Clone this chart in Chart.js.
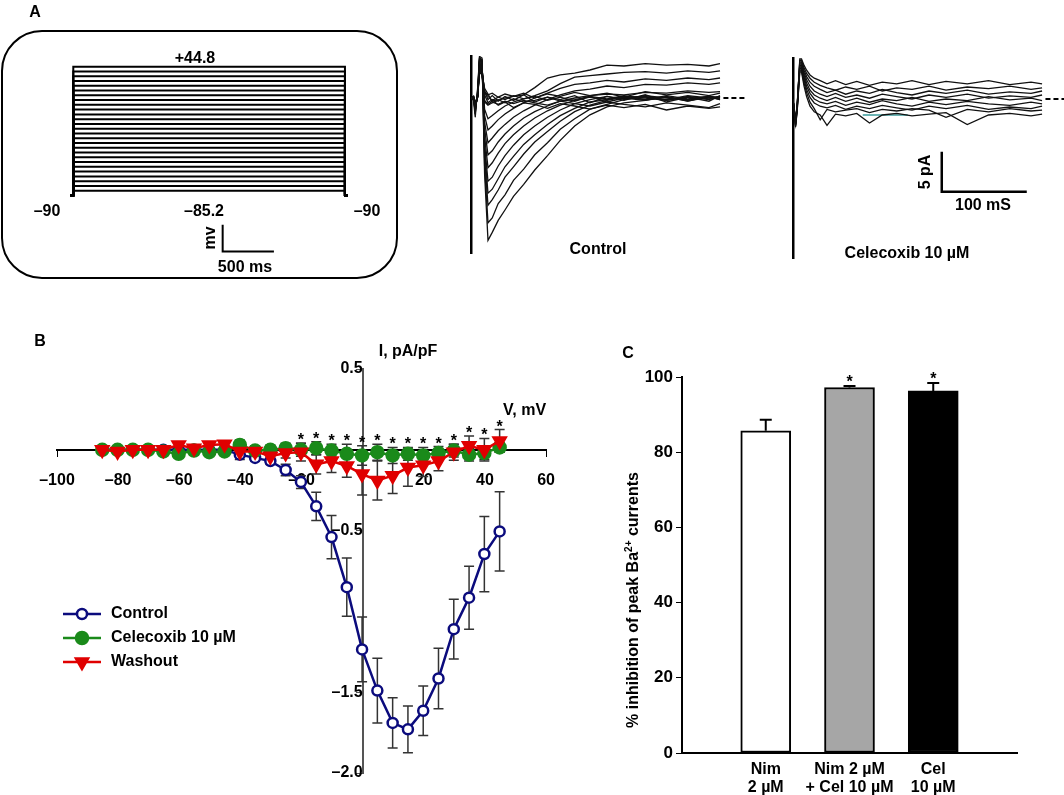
<!DOCTYPE html>
<html>
<head>
<meta charset="utf-8">
<script src="https://cdn.jsdelivr.net/npm/chart.js@4.4.1/dist/chart.umd.min.js"></script>
<style>
  html, body { margin: 0; padding: 0; background: #fff; }
  body { width: 1064px; height: 795px; position: relative; overflow: hidden;
         font-family: "Liberation Sans", Arial, sans-serif; }
  canvas { position: absolute; }
  .lbl { position: absolute; font-weight: bold; font-size: 16px; color: #000; white-space: nowrap;
         line-height: 1; transform: translate(-50%, -50%); }
  .rot { transform: translate(-50%, -50%) rotate(-90deg); }
  .lbl sup { font-size: 10px; vertical-align: 6px; line-height: 0; }
</style>
</head>
<body>

<canvas id="protocol" width="420" height="290" style="left:0;top:0"></canvas>
<canvas id="ctrlTraces" width="285" height="225" style="left:460px;top:40px"></canvas>
<canvas id="celTraces" width="279" height="225" style="left:785px;top:40px"></canvas>
<canvas id="ivChart" width="570" height="465" style="left:0;top:330px"></canvas>
<canvas id="barChart" width="464" height="455" style="left:600px;top:340px"></canvas>

<div class="lbl" style="left:35px;top:12px">A</div>
<div class="lbl" id="lblTop" style="left:195px;top:58px"></div>
<div class="lbl" id="lblHoldL" style="left:47px;top:211px"></div>
<div class="lbl" id="lblBottom" style="left:204px;top:211px"></div>
<div class="lbl" id="lblHoldR" style="left:367px;top:211px"></div>
<div class="lbl rot" style="left:210px;top:238px">mv</div>
<div class="lbl" style="left:245px;top:267px">500 ms</div>
<div class="lbl" style="left:598px;top:249px">Control</div>
<div class="lbl" style="left:907px;top:253px">Celecoxib 10 µM</div>
<div class="lbl rot" style="left:925px;top:172px">5 pA</div>
<div class="lbl" style="left:983px;top:205px">100 mS</div>
<div class="lbl" style="left:40px;top:341px">B</div>
<div class="lbl" style="left:628px;top:353px">C</div>
<div class="lbl rot" style="left:633px;top:600px">% inhibition of peak Ba<sup>2+</sup> currents</div>

<script>
// ======================
// Dữ liệu: protocol điện áp (panel A)
// ======================
const protocolVoltages = [-85.2, -80.2, -75.2, -70.2, -65.2, -60.2, -55.2, -50.2, -45.2, -40.2, -35.2, -30.2, -25.2, -20.2,
  -15.2, -10.2, -5.2, -0.2, 4.8, 9.8, 14.8, 19.8, 24.8, 29.8, 34.8, 39.8, 44.8];
const holdingMv = -90;
const stepMs = 2650;
const protoBarCorner = [1457, -149];   // góc thanh tỉ lệ (ms, mV)
const protoBarMs = 500;
const protoBarMv = 28;

// ======================
// Dữ liệu: dòng điện (pA) theo thời gian (ms)
// ======================
const traceTimes = [0, 3, 5, 8, 10, 13, 16, 20, 25, 32, 40, 50, 62, 75, 90, 105, 122, 140, 160, 180, 205, 230, 255, 280, 293];

const controlTraces = [
  [0, -0.3, -2.4, 1.5, 5.2, 5.0, -9.5, -17.8, -16.8, -15.3, -14.0, -12.3, -10.8, -9.0, -7.2, -5.3, -3.5, -2.1, -1.1, -0.6, -0.3, 0.1, -0.4, 0.2, -0.1],
  [0, 0.2, -2.0, 1.2, 5.0, 4.8, -8.5, -15.6, -15.0, -13.2, -12.1, -10.3, -8.9, -7.1, -5.6, -3.9, -2.6, -1.4, -0.8, -0.2, 0.2, -0.3, 0.1, -0.2, 0.2],
  [0, -0.1, -1.8, 1.0, 4.9, 4.7, -7.5, -13.4, -12.7, -11.5, -9.9, -8.6, -7.0, -5.5, -4.2, -2.9, -1.7, -0.9, -0.3, 0.1, -0.2, 0.3, -0.1, 0.2, -0.2],
  [0, 0.1, -1.6, 0.8, 4.8, 4.6, -6.5, -11.9, -11.4, -10.1, -8.6, -7.3, -5.8, -4.6, -3.3, -2.2, -1.3, -0.5, -0.2, 0.2, 0.0, -0.3, 0.2, -0.1, 0.1],
  [0, -0.2, -1.5, 0.6, 4.7, 4.5, -5.8, -10.4, -9.9, -8.5, -7.2, -5.9, -4.6, -3.5, -2.4, -1.5, -0.7, -0.2, 0.2, -0.1, 0.3, 0.0, -0.2, 0.2, 0.0],
  [0, 0.1, -1.4, 0.5, 4.6, 4.4, -4.8, -8.7, -8.1, -6.9, -5.7, -4.6, -3.5, -2.5, -1.6, -0.9, -0.3, 0.1, -0.2, 0.2, 0.1, -0.2, 0.3, 0.0, 0.2],
  [0, 0.0, -1.2, 0.4, 4.5, 4.2, -3.8, -7.1, -6.6, -5.5, -4.5, -3.5, -2.5, -1.7, -1.0, -0.4, 0.0, 0.3, 0.5, 0.4, 0.7, 0.6, 0.9, 0.7, 0.8],
  [0, 0.2, -1.1, 0.3, 4.4, 4.0, -3.0, -5.6, -5.0, -4.1, -3.3, -2.4, -1.6, -0.9, -0.2, 0.4, 0.9, 1.1, 1.5, 1.3, 1.7, 1.6, 1.9, 1.7, 1.9],
  [0, -0.1, -1.0, 0.2, 4.3, 3.8, -2.2, -4.0, -3.5, -2.7, -2.0, -1.3, -0.6, 0.0, 0.6, 1.2, 1.7, 1.9, 2.2, 2.0, 2.4, 2.2, 2.5, 2.3, 2.5],
  [0, 0.1, -0.9, 0.2, 4.2, 3.6, -1.4, -2.6, -2.2, -1.6, -1.0, -0.5, -0.1, 0.3, 0.9, 1.8, 2.6, 2.8, 3.0, 3.2, 3.3, 3.1, 3.4, 3.2, 3.4],
  [0, 0.0, -0.8, 0.1, 4.0, 3.4, -0.5, -0.9, -0.6, -0.3, 0.0, 0.2, 0.4, 1.3, 2.5, 2.9, 3.1, 3.5, 4.1, 4.0, 4.3, 4.1, 4.2, 4.0, 4.3],
  [0, 0.1, -1.0, 0.5, 4.0, 3.5, 0.6, 0.2, -0.3, 0.1, -0.2, 0.3, -0.1, 0.2, -0.3, 0.1, -0.4, 0.2, -0.1, 0.3, -0.2, 0.1, -0.3, 0.2, 0.0],
  [0, -0.1, -0.8, 0.4, 3.8, 3.2, 0.9, -0.2, 0.3, -0.4, 0.2, -0.3, 0.4, -0.5, 0.1, -0.2, 0.3, -0.6, 0.2, -0.3, 0.4, -0.5, 0.1, -0.4, 0.3],
  [0, 0.2, -0.6, 0.3, 3.6, 3.0, 1.2, 0.5, -0.5, -0.8, -0.4, -0.7, -0.3, -0.6, -0.9, -0.4, -0.7, -1.0, -0.5, -0.8, -1.1, -0.6, -0.9, -1.2, -0.7],
  [0, 0.0, -0.7, 0.2, 3.4, 2.8, 0.4, -0.6, -0.2, -0.9, -0.5, -1.2, -0.6, -0.8, -1.3, -0.7, -1.0, -1.4, -0.9, -1.2, -0.8, -1.5, -1.0, -1.3, -1.1],
  [0, -0.2, -0.9, 0.6, 3.9, 3.3, 0.8, 0.4, 0.6, 0.1, 0.5, 0.2, 0.6, 0.0, 0.5, 0.2, 0.7, 0.3, 0.6, 0.1, 0.8, 0.4, 0.7, 0.3, 0.6],
  [0, 0.1, -1.1, 0.4, 3.7, 3.1, -0.3, -0.8, -0.4, -0.2, -0.6, -0.1, -0.5, -0.3, 0.1, -0.4, -0.2, 0.2, -0.5, 0.0, -0.3, 0.2, -0.4, 0.1, -0.2]
];

const celecoxibTraces = [
  [0, -3.2, -1.0, 5.0, 5.0, 4.2, 3.6, 3.0, 2.6, 2.3, 1.9, 2.3, 1.8, 2.2, 1.7, 2.1, 1.9, 2.3, 1.8, 2.2, 1.9, 2.3, 1.8, 2.1, 1.9],
  [0, -3.0, -0.8, 4.8, 4.8, 3.9, 3.2, 2.6, 2.1, 1.7, 1.4, 1.1, 1.5, 1.2, 1.6, 1.0, 1.4, 1.2, 1.6, 1.1, 1.5, 1.3, 1.6, 1.2, 1.4],
  [0, -2.8, -0.6, 4.6, 4.6, 3.6, 2.8, 2.1, 1.6, 1.2, 0.8, 1.1, 0.6, 1.0, 0.7, 1.2, 0.8, 0.5, 1.0, 0.7, 1.1, 0.6, 0.9, 0.7, 1.0],
  [0, -2.6, -0.5, 4.4, 4.4, 3.3, 2.4, 1.6, 1.0, 0.6, 0.3, 0.7, 0.2, 0.5, 0.1, 0.6, 0.3, 0.0, 0.5, 0.2, 0.6, 0.1, 0.4, 0.2, 0.5],
  [0, -2.9, -0.7, 4.2, 4.2, 3.0, 2.0, 1.1, 0.5, 0.1, -0.2, 0.2, -0.3, 0.1, -0.4, 0.0, -0.2, 0.2, -0.3, 0.0, -0.2, 0.3, -0.1, 0.1, -0.2],
  [0, -3.1, -0.9, 4.0, 4.0, 2.7, 1.6, 0.7, 0.0, -0.4, -0.6, -0.3, -0.8, -0.4, -0.7, -0.2, -0.6, -0.9, -0.4, -0.7, -0.3, -0.6, -0.8, -0.4, -0.6],
  [0, -3.3, -1.1, 3.8, 3.8, 2.4, 1.2, 0.2, -0.5, -0.9, -1.1, -0.8, -1.3, -0.9, -1.2, -0.8, -1.1, -1.4, -0.9, -1.2, -0.8, -1.3, -1.0, -1.2, -0.9],
  [0, -3.4, -1.3, 3.6, 3.6, 2.0, 0.8, -0.4, -1.2, -2.6, -1.3, -1.6, -1.4, -1.2, -1.7, -1.3, -1.5, -1.2, -1.4, -2.3, -1.3, -1.6, -1.2, -1.5, -1.4],
  [0, -3.5, -1.4, 3.4, 3.4, 1.6, 0.3, -0.9, -1.6, -2.0, -3.3, -1.9, -2.1, -1.8, -3.0, -2.0, -1.8, -2.1, -1.9, -1.7, -3.2, -2.0, -1.8, -2.1, -1.9]
];
const tealTimes = [82, 100, 118, 135];
const tealValues = [-2.0, -2.0, -2.0, -2.0];
const dashFromMs = 297;
const pAScaleBar = { t: [175, 175, 275], i: [-6.6, -11.6, -11.6] };

// ======================
// Dữ liệu: đường cong I-V (panel B)
// ======================
const ivVoltages = protocolVoltages;
const controlI = [0, 0, 0, 0, 0, 0, 0, 0, 0, -0.03, -0.05, -0.07, -0.125, -0.20, -0.35, -0.54, -0.85, -1.235,
  -1.49, -1.69, -1.73, -1.615, -1.415, -1.11, -0.915, -0.645, -0.505];
const controlErr = [0.01, 0.01, 0.01, 0.01, 0.01, 0.01, 0.01, 0.01, 0.01, 0.03, 0.02, 0.02, 0.035, 0.04, 0.087, 0.134, 0.18, 0.2,
  0.2, 0.156, 0.145, 0.153, 0.187, 0.185, 0.195, 0.233, 0.245];
const celecoxibI = [0, 0, 0, 0, -0.01, -0.025, -0.005, -0.015, -0.01, 0.03, -0.005, 0, 0.01, 0, 0.01, -0.005, -0.025, -0.035,
  -0.015, -0.035, -0.025, -0.035, -0.02, -0.005, -0.03, -0.02, 0.015];
const celecoxibErr = [0.01, 0.01, 0.01, 0.01, 0.01, 0.01, 0.01, 0.01, 0.01, 0.03, 0.03, 0.03, 0.03, 0.04, 0.04, 0.04, 0.06, 0.06,
  0.05, 0.05, 0.04, 0.05, 0.04, 0.04, 0.04, 0.04, 0.03];
const washoutI = [0, -0.01, 0, 0, 0, 0.03, 0.01, 0.03, 0.035, -0.01, -0.01, -0.04, -0.02, -0.015, -0.09, -0.07, -0.10, -0.15,
  -0.19, -0.16, -0.11, -0.095, -0.07, -0.015, 0.025, 0, 0.055];
const washoutErr = [0.01, 0.01, 0.01, 0.01, 0.01, 0.01, 0.01, 0.01, 0.01, 0.02, 0.02, 0.03, 0.03, 0.055, 0.06, 0.07, 0.07, 0.13,
  0.12, 0.11, 0.115, 0.07, 0.06, 0.05, 0.06, 0.07, 0.07];
const starVoltages = [-20.2, -15.2, -10.2, -5.2, -0.2, 4.8, 9.8, 14.8, 19.8, 24.8, 29.8, 34.8, 39.8, 44.8];

// ======================
// Dữ liệu: % ức chế (panel C)
// ======================
const barCategories = [["Nim", "2 µM"], ["Nim 2 µM", "+ Cel 10 µM"], ["Cel", "10 µM"]];
const barValues = [85.7, 97.2, 96.3];
const barErrors = [2.9, 0.4, 2.1];
const barColors = ["#ffffff", "#a6a6a6", "#000000"];
const barStars = [false, true, true];

const FONT = '"Liberation Sans", Arial, sans-serif';
Chart.defaults.font.family = FONT;
Chart.defaults.color = "#000";
Chart.defaults.animation = false;

const noPlugins = { legend: { display: false }, tooltip: { enabled: false } };
const dash = v => (v < 0 ? "–" : "") + Math.abs(v);

// nhãn văn bản của protocol lấy từ dữ liệu
document.getElementById("lblTop").textContent = "+" + protocolVoltages[protocolVoltages.length - 1];
document.getElementById("lblBottom").textContent = dash(protocolVoltages[0]);
document.getElementById("lblHoldL").textContent = dash(holdingMv);
document.getElementById("lblHoldR").textContent = dash(holdingMv);

// ======================
// Panel A: protocol
// ======================
const roundBox = {
  id: "roundBox",
  beforeDatasetsDraw(chart) {
    const ctx = chart.ctx;
    ctx.save();
    ctx.strokeStyle = "#000";
    ctx.lineWidth = 2;
    ctx.beginPath();
    ctx.roundRect(2, 31, 395, 247, 40);
    ctx.stroke();
    ctx.restore();
  }
};

const protocolSets = protocolVoltages.map(v => ({
  data: [
    { x: -28, y: holdingMv }, { x: 0, y: holdingMv }, { x: 0, y: v },
    { x: stepMs, y: v }, { x: stepMs, y: holdingMv }, { x: stepMs + 28, y: holdingMv }
  ],
  showLine: true, borderColor: "#000", borderWidth: 2, pointRadius: 0
}));
protocolSets.push({
  data: [
    { x: protoBarCorner[0], y: protoBarCorner[1] + protoBarMv },
    { x: protoBarCorner[0], y: protoBarCorner[1] },
    { x: protoBarCorner[0] + protoBarMs, y: protoBarCorner[1] }
  ],
  showLine: true, borderColor: "#000", borderWidth: 2, pointRadius: 0
});

new Chart(document.getElementById("protocol"), {
  type: "scatter",
  data: { datasets: protocolSets },
  options: {
    responsive: false,
    layout: { padding: 0 },
    plugins: noPlugins,
    scales: {
      x: { display: false, min: -715, max: 3382 },
      y: { display: false, min: -189.3, max: 114.7 }
    }
  },
  plugins: [roundBox]
});

// ======================
// Panel A: các vết dòng điện
// ======================
function traceSets(traces, extra) {
  const sets = traces.map(tr => ({
    data: tr.map((v, i) => ({ x: traceTimes[i], y: v })),
    showLine: true, borderColor: "#111", borderWidth: 1.3, pointRadius: 0
  }));
  return sets.concat(extra);
}

function makeTraceChart(id, sets, xMax, yMin, yMax, pad) {
  new Chart(document.getElementById(id), {
    type: "scatter",
    data: { datasets: sets },
    options: {
      responsive: false,
      layout: { padding: pad },
      plugins: noPlugins,
      scales: {
        x: { display: false, min: 0, max: xMax },
        y: {
          min: yMin, max: yMax,
          ticks: { display: false },
          grid: { display: false },
          border: { display: true, color: "#000", width: 2.5 },
          afterFit: s => { s.width = 0; }
        }
      }
    }
  });
}

const dashedBaseline = xEnd => ({
  data: [{ x: dashFromMs, y: 0 }, { x: xEnd, y: 0 }],
  showLine: true, borderColor: "#000", borderWidth: 1.8, borderDash: [5, 3], pointRadius: 0
});

makeTraceChart("ctrlTraces",
  traceSets(controlTraces, [dashedBaseline(322)]),
  322.4, -19.375, 5.25, { left: 11, top: 16, right: 0, bottom: 12 });

makeTraceChart("celTraces",
  traceSets(celecoxibTraces, [
    dashedBaseline(319),
    { data: tealTimes.map((t, i) => ({ x: t, y: tealValues[i] })), showLine: true,
      borderColor: "#3a9a9a", borderWidth: 1.5, pointRadius: 0 },
    { data: pAScaleBar.t.map((t, i) => ({ x: t, y: pAScaleBar.i[i] })), showLine: true,
      borderColor: "#000", borderWidth: 2.5, pointRadius: 0 }
  ]),
  318.8, -19.875, 5.125, { left: 8, top: 18, right: 0, bottom: 7 });

// ======================
// Panel B: I-V
// ======================
const ivSeries = [
  { label: "Control", values: controlI, errs: controlErr, color: "#0b0b7d", style: "circle", radius: 5, fill: "#fff", rot: 0 },
  { label: "Celecoxib 10 µM", values: celecoxibI, errs: celecoxibErr, color: "#1a8a1a", style: "circle", radius: 6, fill: "#1a8a1a", rot: 0 },
  { label: "Washout", values: washoutI, errs: washoutErr, color: "#e00000", style: "triangle", radius: 7, fill: "#e00000", rot: 180 }
];

const ivExtras = {
  id: "ivExtras",
  beforeDatasetsDraw(chart) {
    const { ctx, scales: { x, y } } = chart;
    ctx.save();
    ctx.strokeStyle = "#333";
    ctx.lineWidth = 1.5;
    ivSeries.forEach(s => {
      s.values.forEach((v, i) => {
        const px = x.getPixelForValue(ivVoltages[i]);
        const top = y.getPixelForValue(v + s.errs[i]);
        const bot = y.getPixelForValue(v - s.errs[i]);
        ctx.beginPath();
        ctx.moveTo(px, top); ctx.lineTo(px, bot);
        ctx.moveTo(px - 5, top); ctx.lineTo(px + 5, top);
        ctx.moveTo(px - 5, bot); ctx.lineTo(px + 5, bot);
        ctx.stroke();
      });
    });
    ctx.restore();
  },
  afterDatasetsDraw(chart) {
    const { ctx, scales: { x, y } } = chart;
    ctx.save();
    ctx.fillStyle = "#000";
    ctx.font = "bold 16px " + FONT;
    ctx.textAlign = "center";
    ctx.textBaseline = "alphabetic";
    starVoltages.forEach(v => {
      const i = ivVoltages.indexOf(v);
      const top = Math.max(washoutI[i] + washoutErr[i], celecoxibI[i] + celecoxibErr[i]);
      ctx.fillText("*", x.getPixelForValue(v), y.getPixelForValue(top) + 2);
    });

    // tiêu đề trục
    ctx.textAlign = "left";
    ctx.textBaseline = "middle";
    ctx.fillText("I, pA/pF", x.getPixelForValue(0) + 16, y.getPixelForValue(0.5) - 17);
    ctx.textAlign = "right";
    ctx.fillText("V, mV", x.getPixelForValue(60), y.getPixelForValue(0) - 39);

    // chú thích
    ivSeries.forEach((s, k) => {
      const ly = 284 + k * 24;
      ctx.strokeStyle = s.color;
      ctx.lineWidth = 2.5;
      ctx.beginPath();
      ctx.moveTo(63, ly); ctx.lineTo(101, ly);
      ctx.stroke();
      ctx.fillStyle = s.fill;
      Chart.helpers.drawPoint(ctx, { pointStyle: s.style, radius: s.radius, rotation: s.rot, borderWidth: 2.5 }, 82, ly);
      ctx.fillStyle = "#000";
      ctx.textAlign = "left";
      ctx.fillText(s.label, 111, ly);
    });
    ctx.restore();
  }
};

new Chart(document.getElementById("ivChart"), {
  type: "scatter",
  data: {
    datasets: ivSeries.map((s, k) => ({
      label: s.label,
      data: s.values.map((v, i) => ({ x: ivVoltages[i], y: v })),
      showLine: true,
      borderColor: s.color,
      borderWidth: 2.5,
      pointStyle: s.style,
      pointRadius: s.radius,
      pointRotation: s.rot,
      pointBorderWidth: 2.5,
      pointBorderColor: s.color,
      pointBackgroundColor: s.fill,
      order: 2 - k
    }))
  },
  options: {
    responsive: false,
    layout: { padding: { left: 57, right: 3, top: 39, bottom: 22 } },
    plugins: noPlugins,
    scales: {
      x: {
        type: "linear", min: -100, max: 60, position: { y: 0 },
        ticks: {
          stepSize: 20, padding: 15,
          font: { size: 16, weight: "bold" },
          callback: v => (v === 0 ? "" : dash(v))
        },
        grid: {
          display: true, drawOnChartArea: false, tickLength: 6,
          tickColor: c => (c.tick && (c.tick.value === -100 || c.tick.value === 60) ? "#000" : "rgba(0,0,0,0)")
        },
        border: { display: true, color: "#000", width: 2 }
      },
      y: {
        type: "linear", min: -2, max: 0.5, position: { x: 0 },
        ticks: {
          stepSize: 0.5, padding: 11,
          font: { size: 16, weight: "bold" },
          callback: v => (Math.abs(v) < 1e-9 || Math.abs(v + 1) < 1e-9 ? "" : (v < 0 ? "–" : "") + Math.abs(v).toFixed(1))
        },
        grid: {
          display: true, drawOnChartArea: false, tickLength: 6,
          tickColor: c => (c.tick && (Math.abs(c.tick.value) < 1e-9 || Math.abs(c.tick.value + 1) < 1e-9) ? "rgba(0,0,0,0)" : "#555")
        },
        border: { display: true, color: "#555", width: 2 }
      }
    }
  },
  plugins: [ivExtras]
});

// ======================
// Panel C: cột % ức chế
// ======================
const barLabels = [""].concat(barCategories, [""]);
const barData = [null].concat(barValues, [null]);

const barExtras = {
  id: "barExtras",
  afterDatasetsDraw(chart) {
    const { ctx, scales: { x, y } } = chart;
    ctx.save();
    ctx.strokeStyle = "#000";
    ctx.fillStyle = "#000";
    ctx.lineWidth = 2;
    ctx.font = "bold 16px " + FONT;
    ctx.textAlign = "center";
    barValues.forEach((v, i) => {
      const px = x.getPixelForValue(i + 1);
      const top = y.getPixelForValue(v + barErrors[i]);
      ctx.beginPath();
      ctx.moveTo(px, y.getPixelForValue(v)); ctx.lineTo(px, top);
      ctx.moveTo(px - 6, top); ctx.lineTo(px + 6, top);
      ctx.stroke();
      if (barStars[i]) ctx.fillText("*", px, top + 1);
    });
    ctx.restore();
  }
};

new Chart(document.getElementById("barChart"), {
  type: "bar",
  data: {
    labels: barLabels,
    datasets: [{
      data: barData,
      backgroundColor: [""].concat(barColors, [""]),
      borderColor: "#000",
      borderWidth: 2,
      borderSkipped: false,
      barThickness: 50
    }]
  },
  options: {
    responsive: false,
    layout: { padding: { left: 0, right: 47, top: 37, bottom: 0 } },
    plugins: noPlugins,
    scales: {
      x: {
        type: "category", offset: false,
        grid: { display: false },
        border: { display: true, color: "#000", width: 2 },
        ticks: { autoSkip: false, maxRotation: 0, padding: 0, font: { size: 16, weight: "bold", lineHeight: 1.1 } },
        afterFit: s => { s.height = 42; }
      },
      y: {
        min: 0, max: 100,
        ticks: { stepSize: 20, padding: 3, font: { size: 17, weight: "bold" } },
        grid: { display: true, drawOnChartArea: false, tickLength: 6, tickColor: "#000" },
        border: { display: true, color: "#000", width: 2 },
        afterFit: s => { s.width = 82; }
      }
    }
  },
  plugins: [barExtras]
});
</script>
</body>
</html>
